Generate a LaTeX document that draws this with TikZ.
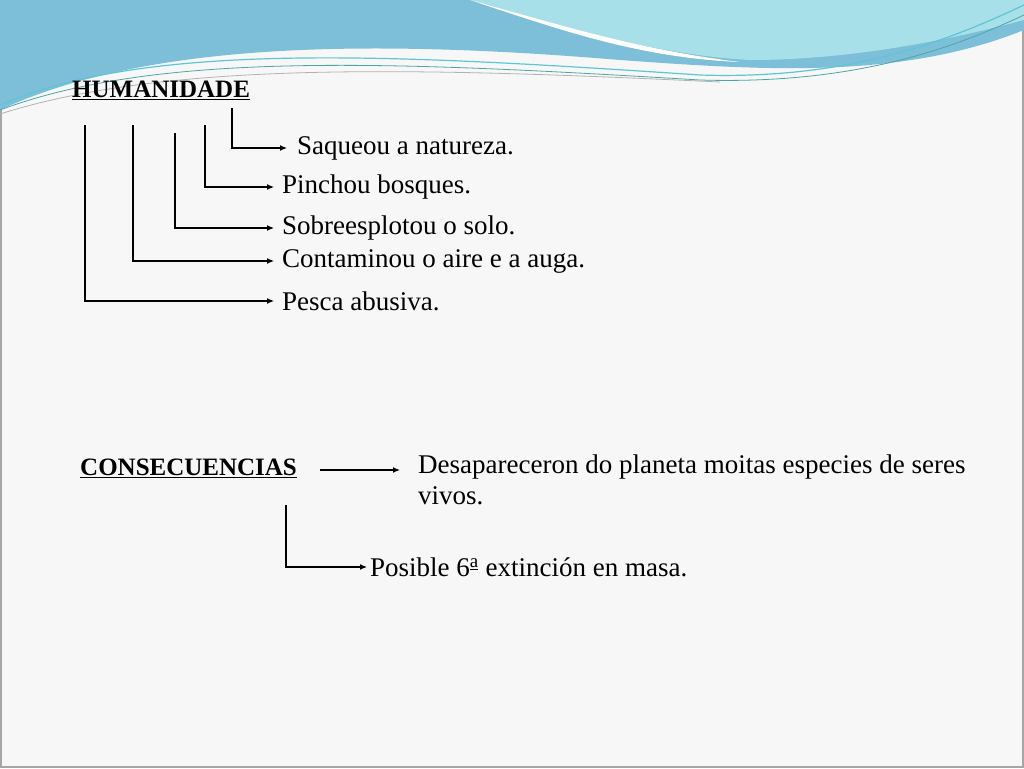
\documentclass[tikz,border=0pt]{standalone}
\usepackage{fontspec}
\usetikzlibrary{arrows.meta}
\setmainfont{Liberation Serif}
\definecolor{waveA}{HTML}{7DBFD8}
\definecolor{waveB}{HTML}{A8E0EA}
\definecolor{waveC}{HTML}{5CC6D6}
\begin{document}
\begin{tikzpicture}[x=1pt,y=-1pt,
  lbl/.style={anchor=west,font=\fontsize{27}{31}\selectfont,inner sep=0pt},
  head/.style={anchor=west,font=\fontsize{25}{29}\selectfont\bfseries,inner sep=0pt},
  conn/.style={-{Latex[length=7pt,width=6pt]},line width=1.2pt}]
\useasboundingbox (0,0) rectangle (1024,768);
\fill[gray!6] (0,0) rectangle (1024,768);
\draw[gray!70,line width=1.5pt] (1,1) rectangle (1023,767);
% wave header
\fill[waveA] (0,0) -- (1024,0) -- (1024,30) .. controls (900,80) and (760,70) .. (620,60) .. controls (380,40) and (150,40) .. (0,110) -- cycle;
\fill[waveB] (470,0) -- (1024,0) -- (1024,20) .. controls (950,40) and (850,60) .. (750,60) .. controls (650,55) and (540,20) .. (470,0) -- cycle;
\fill[white] (470,0) .. controls (560,25) and (640,50) .. (740,62) .. controls (640,58) and (560,30) .. (470,0) -- cycle;
\draw[waveC,line width=1.2pt] (0,105) .. controls (150,40) and (400,55) .. (700,75) .. controls (850,80) and (950,40) .. (1024,5);
\draw[teal!70,line width=0.8pt] (0,110) .. controls (160,50) and (400,62) .. (700,80) .. controls (860,85) and (960,45) .. (1024,15);
\draw[gray!60,line width=0.8pt] (0,114) .. controls (170,60) and (420,68) .. (720,82);
% nodes
\node[head] (hum) at (72,90) {\underline{HUMANIDADE}};
\node[lbl] (t1) at (297,148) {Saqueou a natureza.};
\node[lbl] (t2) at (282,187) {Pinchou bosques.};
\node[lbl] (t3) at (282,228) {Sobreesplotou o solo.};
\node[lbl] (t4) at (282,261) {Contaminou o aire e a auga.};
\node[lbl] (t5) at (282,301) {Pesca abusiva.};
\coordinate (s1) at (232,108);
\coordinate (s2) at (205,125);
\coordinate (s3) at (175,133);
\coordinate (s4) at (133,125);
\coordinate (s5) at (85,125);
\draw[conn] (s1) |- ([xshift=-10pt]t1.west);
\draw[conn] (s2) |- ([xshift=-8pt]t2.west);
\draw[conn] (s3) |- ([xshift=-8pt]t3.west);
\draw[conn] (s4) |- ([xshift=-8pt]t4.west);
\draw[conn] (s5) |- ([xshift=-8pt]t5.west);
\node[head] (cons) at (80,468) {\underline{CONSECUENCIAS}};
\node[lbl,anchor=north west,align=left,font=\fontsize{27}{31}\selectfont] (d) at (418,455) {Desapareceron do planeta moitas especies de seres\\vivos.};
\coordinate (a1) at (320,470);
\draw[conn] (a1) -- (400,470);
\node[lbl] (p) at (370,567) {Posible 6\textsuperscript{\underline{a}} extinción en masa.};
\coordinate (s6) at (286,505);
\draw[conn] (s6) |- ([xshift=-3pt]p.west);
\end{tikzpicture}
\end{document}
